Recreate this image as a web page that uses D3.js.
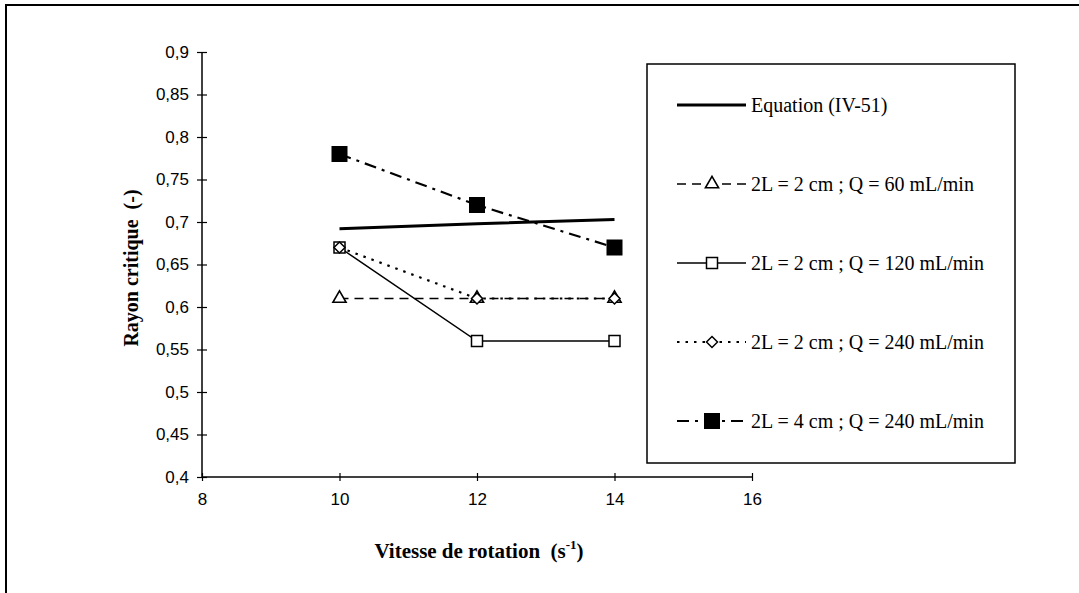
<!DOCTYPE html>
<html><head><meta charset="utf-8">
<script src="https://cdn.jsdelivr.net/npm/d3@7"></script>
<style>body{margin:0;background:#fff}svg{display:block}text{white-space:pre}</style>
</head><body>
<svg id="c" width="1079" height="593"></svg>
<script>
const xValues = [10, 12, 14];
const equation = [0.692, 0.698, 0.703];
const q60 = [0.61, 0.61, 0.61];
const q120 = [0.67, 0.56, 0.56];
const q240 = [0.67, 0.61, 0.61];
const q240L4 = [0.78, 0.72, 0.67];
const xTicks = [8, 10, 12, 14, 16];
const yTicks = [0.4, 0.45, 0.5, 0.55, 0.6, 0.65, 0.7, 0.75, 0.8, 0.85, 0.9];
const legendLabels = ["Equation (IV-51)", "2L = 2 cm ; Q = 60 mL/min", "2L = 2 cm ; Q = 120 mL/min", "2L = 2 cm ; Q = 240 mL/min", "2L = 4 cm ; Q = 240 mL/min"];

const svg = d3.select("#c");
const x = d3.scaleLinear().domain([8, 16]).range([202, 752]);
const y = d3.scaleLinear().domain([0.4, 0.9]).range([477, 52]);

// outer frame (top and left edges visible)
svg.append("path").attr("d", "M6,600 L6,5 L1085,5").attr("fill", "none").attr("stroke", "#000").attr("stroke-width", 2);

// axes
const yAxis = d3.axisLeft(y).tickValues(yTicks).tickSize(5).tickPadding(8)
  .tickFormat(d => d3.format(".2~f")(d).replace(".", ","));
const gy = svg.append("g").attr("transform", "translate(202,0)").call(yAxis);
gy.selectAll(".tick line").attr("x1", -5).attr("x2", 5);
const xAxis = d3.axisBottom(x).tickValues(xTicks).tickSize(4).tickPadding(12).tickFormat(d3.format("d"));
const gx = svg.append("g").attr("transform", "translate(0,477)").call(xAxis);
gx.selectAll(".tick line").attr("y1", -4).attr("y2", 4);
[gx, gy].forEach(g => {
  g.select(".domain").attr("stroke-width", 1.5);
  g.selectAll("text").attr("font-family", "'Liberation Sans', Arial, sans-serif").attr("font-size", 17).attr("fill", "#000");
  g.selectAll(".tick line").attr("stroke-width", 1.2);
});
gy.select(".domain").attr("d", `M0,${y(0.4)}V${y(0.9)}`);
gx.select(".domain").attr("d", `M${x(8)},0H${x(16)}`);

// axis titles
svg.append("text").attr("transform", "translate(138,268) rotate(-90)").attr("text-anchor", "middle")
  .attr("font-family", "'Liberation Serif', 'Times New Roman', serif").attr("font-weight", "bold").attr("font-size", 20)
  .text("Rayon critique  (-)");
const xt = svg.append("text").attr("x", 479).attr("y", 558).attr("text-anchor", "middle")
  .attr("font-family", "'Liberation Serif', 'Times New Roman', serif").attr("font-weight", "bold").attr("font-size", 21);
xt.append("tspan").text("Vitesse de rotation  (s");
xt.append("tspan").attr("dy", -9).attr("font-size", 13).text("-1");
xt.append("tspan").attr("dy", 9).text(")");

const series = [
  {vals: equation, dash: null, width: 3, marker: null},
  {vals: q60, dash: "9,6", width: 1.5, marker: "tri"},
  {vals: q120, dash: null, width: 1.5, marker: "sq"},
  {vals: q240, dash: "2.5,6", width: 2.2, marker: "dia"},
  {vals: q240L4, dash: "12,6,3,6", width: 2.2, marker: "bsq"}
];

function drawMarker(g, type, cx, cy) {
  if (type === "tri") {
    g.append("path").attr("d", d3.symbol(d3.symbolTriangle, 75)()).attr("transform", `translate(${cx},${cy})`)
      .attr("fill", "#fff").attr("stroke", "#000").attr("stroke-width", 1.6);
  } else if (type === "sq") {
    g.append("rect").attr("x", cx - 5.5).attr("y", cy - 5.5).attr("width", 11).attr("height", 11)
      .attr("fill", "#fff").attr("stroke", "#000").attr("stroke-width", 1.5);
  } else if (type === "dia") {
    g.append("path").attr("d", "M0,-5.5L5.5,0L0,5.5L-5.5,0Z").attr("transform", `translate(${cx},${cy})`)
      .attr("fill", "#fff").attr("stroke", "#000").attr("stroke-width", 1.5);
  } else if (type === "bsq") {
    g.append("rect").attr("x", cx - 8).attr("y", cy - 8).attr("width", 16).attr("height", 16).attr("fill", "#000");
  }
}

const line = d3.line().x((d, i) => x(xValues[i])).y(d => y(d));
series.forEach(s => {
  svg.append("path").attr("d", line(s.vals)).attr("fill", "none").attr("stroke", "#000")
    .attr("stroke-width", s.width).attr("stroke-dasharray", s.dash);
});
series.forEach(s => {
  if (!s.marker) return;
  const g = svg.append("g");
  s.vals.forEach((v, i) => drawMarker(g, s.marker, x(xValues[i]), y(v)));
});

// legend
svg.append("rect").attr("x", 647).attr("y", 64).attr("width", 368).attr("height", 399)
  .attr("fill", "none").attr("stroke", "#000").attr("stroke-width", 1.5);
const rowY = d3.scalePoint().domain(d3.range(5)).range([105, 421]);
series.forEach((s, i) => {
  const yy = rowY(i);
  const g = svg.append("g");
  g.append("line").attr("x1", 677).attr("x2", 746).attr("y1", yy).attr("y2", yy).attr("stroke", "#000")
    .attr("stroke-width", s.width).attr("stroke-dasharray", s.dash);
  if (s.marker) drawMarker(g, s.marker, 712, yy);
  g.append("text").attr("x", 751).attr("y", yy + 7)
    .attr("font-family", "'Liberation Serif', 'Times New Roman', serif").attr("font-size", 20)
    .text(legendLabels[i]);
});
</script>
</body></html>
